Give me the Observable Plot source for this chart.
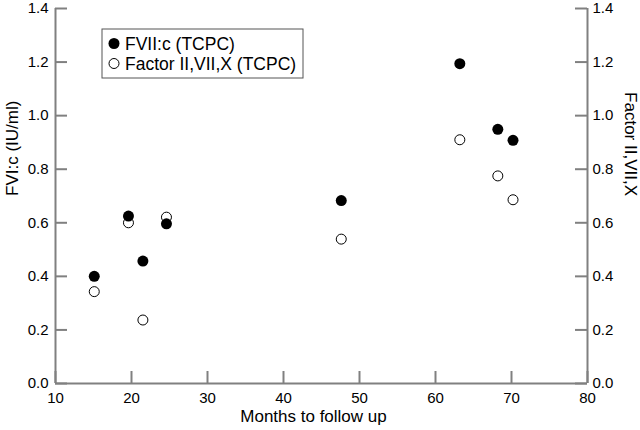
<!DOCTYPE html>
<html>
<head>
<meta charset="utf-8">
<script src="https://cdn.jsdelivr.net/npm/d3@7"></script>
<script src="https://cdn.jsdelivr.net/npm/@observablehq/plot@0.6"></script>
<style>
  html, body { margin: 0; padding: 0; background: white; }
  #wrap { position: relative; width: 640px; height: 430px; font-family: "Liberation Sans", Arial, Helvetica, sans-serif; }
  #legend { position: absolute; left: 0; top: 0; pointer-events: none; }
</style>
</head>
<body>
<div id="wrap"></div>
<script>
// Data
const months = [15.1, 19.6, 21.5, 24.6, 47.6, 63.2, 68.2, 70.2];
const fviiC = [0.40, 0.625, 0.457, 0.596, 0.683, 1.194, 0.949, 0.908];
const factorIIVIIX = [0.343, 0.600, 0.237, 0.621, 0.539, 0.910, 0.775, 0.686];

const xDomain = [10, 80];
const yDomain = [0, 1.4];
const xTicks = [10, 20, 30, 40, 50, 60, 70, 80];
const yTicks = [0, 0.2, 0.4, 0.6, 0.8, 1.0, 1.2, 1.4];

const xTitle = "Months to follow up";
const yTitleLeft = "FVI:c (IU/ml)";
const yTitleRight = "Factor II,VII,X";
const seriesNames = ["FVII:c (TCPC)", "Factor II,VII,X (TCPC)"];

const filled = months.map((m, i) => ({m, v: fviiC[i]}));
const open = months.map((m, i) => ({m, v: factorIIVIIX[i]}));

const axisColor = "#808080";
const font = "'Liberation Sans', Arial, Helvetica, sans-serif";

const W = 640, H = 430;
const mL = 55, mR = 53, mT = 8, mB = 47;
const innerW = W - mL - mR, innerH = H - mT - mB;
const tickLen = 12;

const chart = Plot.plot({
  width: W,
  height: H,
  marginLeft: mL,
  marginRight: mR,
  marginTop: mT,
  marginBottom: mB,
  style: {fontFamily: font, fontSize: "14px", color: "black", background: "white", overflow: "visible"},
  x: {domain: xDomain, label: null},
  y: {domain: yDomain, label: null},
  marks: [
    // axis lines
    Plot.ruleY([yDomain[0]], {stroke: axisColor, strokeWidth: 2}),
    Plot.ruleX(xDomain, {stroke: axisColor, strokeWidth: 2}),
    // inward ticks
    Plot.ruleX(xTicks, {x: d => d, insetTop: innerH - tickLen, stroke: axisColor, strokeWidth: 2}),
    Plot.ruleY(yTicks, {y: d => d, insetRight: innerW - tickLen, stroke: axisColor, strokeWidth: 2}),
    Plot.ruleY(yTicks, {y: d => d, insetLeft: innerW - tickLen, stroke: axisColor, strokeWidth: 2}),
    // tick labels
    Plot.axisX(xTicks, {anchor: "bottom", tickSize: 0, tickPadding: 9, tickFormat: d => String(d), fill: "black", fontSize: 15, label: null}),
    Plot.axisY(yTicks, {anchor: "left", tickSize: 0, tickPadding: 7, tickFormat: d => d.toFixed(1), fill: "black", fontSize: 15, label: null}),
    Plot.axisY(yTicks, {anchor: "right", tickSize: 0, tickPadding: 5, tickFormat: d => d.toFixed(1), fill: "black", fontSize: 15, label: null}),
    // axis titles
    Plot.text([xTitle], {text: d => d, frameAnchor: "bottom", dy: 38, dx: -8, fontSize: 17, fill: "black"}),
    Plot.text([yTitleLeft], {text: d => d, frameAnchor: "left", dx: -43, rotate: -90, fontSize: 17, fill: "black"}),
    Plot.text([yTitleRight], {text: d => d, frameAnchor: "right", dx: 43, rotate: 90, fontSize: 17, fill: "black"}),
    // data
    Plot.dot(open, {x: "m", y: "v", r: 5, stroke: "black", fill: "white", strokeWidth: 1}),
    Plot.dot(filled, {x: "m", y: "v", r: 5.5, fill: "black", stroke: "none"})
  ]
});

const wrap = document.getElementById("wrap");
wrap.appendChild(chart);

// Legend box (inside the plot area, as in the reference)
const ns = "http://www.w3.org/2000/svg";
const leg = document.createElementNS(ns, "svg");
leg.setAttribute("id", "legend");
leg.setAttribute("width", W);
leg.setAttribute("height", H);
const box = document.createElementNS(ns, "rect");
box.setAttribute("x", 102); box.setAttribute("y", 29);
box.setAttribute("width", 201); box.setAttribute("height", 49);
box.setAttribute("fill", "white"); box.setAttribute("stroke", "#555"); box.setAttribute("stroke-width", 1);
leg.appendChild(box);
const rows = [
  {name: seriesNames[0], cy: 43.5, fill: "black", stroke: "none", r: 5.5},
  {name: seriesNames[1], cy: 63.5, fill: "white", stroke: "black", r: 5}
];
rows.forEach(row => {
  const c = document.createElementNS(ns, "circle");
  c.setAttribute("cx", 114); c.setAttribute("cy", row.cy); c.setAttribute("r", row.r);
  c.setAttribute("fill", row.fill); c.setAttribute("stroke", row.stroke);
  leg.appendChild(c);
  const t = document.createElementNS(ns, "text");
  t.setAttribute("x", 125); t.setAttribute("y", row.cy); t.setAttribute("dy", "0.35em");
  t.setAttribute("font-family", font); t.setAttribute("font-size", 17.5); t.setAttribute("fill", "black");
  t.textContent = row.name;
  leg.appendChild(t);
});
wrap.appendChild(leg);
</script>
</body>
</html>
